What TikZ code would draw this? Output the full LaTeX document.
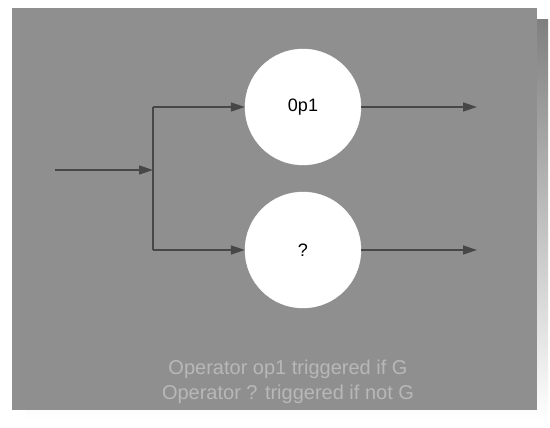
\documentclass[tikz,border=0pt]{standalone}
\usepackage{fontspec}
\setmainfont{Liberation Sans}
\usetikzlibrary{arrows.meta}
\definecolor{panel}{gray}{0.56}
\definecolor{shade}{gray}{0.22}
\definecolor{wire}{gray}{0.28}
\definecolor{note}{gray}{0.72}
\tikzset{
  opnode/.style={circle, fill=white, draw=white, minimum size=116pt, inner sep=0pt, font=\fontsize{18}{20}\selectfont},
  flow/.style={draw=wire, line width=1.4pt, -{Triangle[length=14pt, width=9pt]}},
  plain/.style={draw=wire, line width=1.4pt},
  caption/.style={text=note, font=\fontsize{20}{25}\selectfont, align=center}
}
\begin{document}
\begin{tikzpicture}[x=1pt, y=-1pt]
  \useasboundingbox (0,0) rectangle (550,428);
  \fill[white] (0,0) rectangle (550,428);
  % drop shadow and panel
  \fill[shade] (25,20) rectangle (548,420);
  \fill[panel] (12,8) rectangle (537,410);

  \node[opnode] (op1) at (303,107) {0p1};
  \node[opnode] (op2) at (303,250) {?};

  \coordinate (in) at (55,170);
  \coordinate (split) at (153,170);
  \coordinate (top) at (153,107);
  \coordinate (bot) at (153,250);
  \coordinate (out1) at (477,107);
  \coordinate (out2) at (477,250);

  \draw[flow] (in) -- (split);
  \draw[plain] (top) -- (bot);
  \draw[flow] (top) -- (op1.west);
  \draw[flow] (bot) -- (op2.west);
  \draw[flow] (op1.east) -- (out1);
  \draw[flow] (op2.east) -- (out2);

  \node[caption] (note) at (288,382) {Operator op1 triggered if G\\Operator ? triggered if not G};
\end{tikzpicture}
\end{document}
